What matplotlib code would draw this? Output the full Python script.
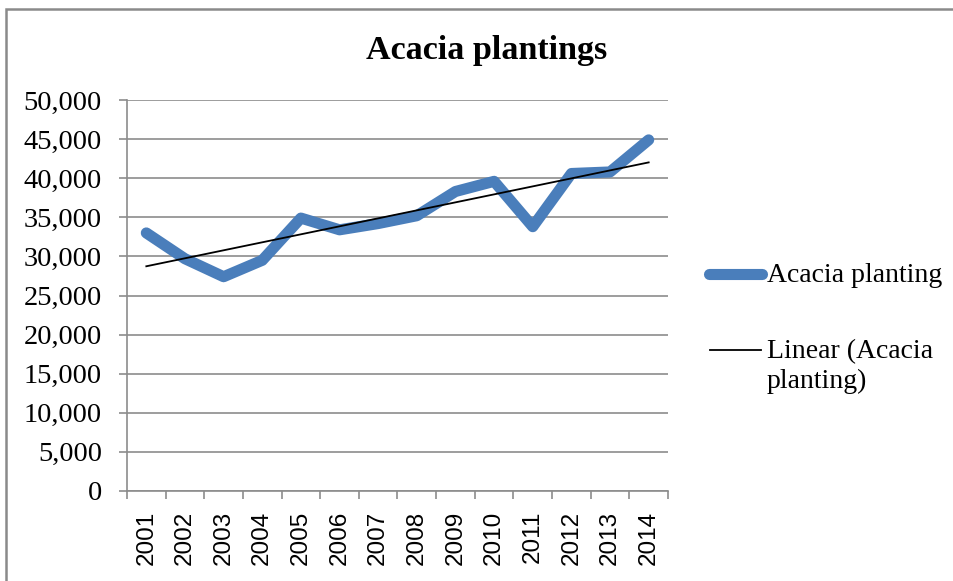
import numpy as np
import matplotlib
matplotlib.use("Agg")
import matplotlib.pyplot as plt
from matplotlib.lines import Line2D
from matplotlib.patches import Rectangle
from matplotlib.ticker import FuncFormatter

years = ["2001", "2002", "2003", "2004", "2005", "2006", "2007",
         "2008", "2009", "2010", "2011", "2012", "2013", "2014"]
plantings = [33000, 29700, 27400, 29500, 34900, 33400, 34200,
             35200, 38300, 39600, 33800, 40600, 40800, 44900]
series_label = "Acacia planting"
trend_label = "Linear (Acacia\nplanting)"
title = "Acacia plantings"

serif = "Liberation Serif"
blue = "#4A7EBB"
grey = "#8C8C8C"

fig = plt.figure(figsize=(9.54, 5.81), dpi=100)
ax = fig.add_axes([127 / 954, 90 / 581, 541 / 954, 391 / 581])

x = np.arange(len(years))
ax.plot(x, plantings, color=blue, lw=8, solid_capstyle="round",
        solid_joinstyle="round", zorder=3)

# linear trendline like excel
k, b = np.polyfit(x, plantings, 1)
ax.plot(x, k * x + b, color="black", lw=1.3, zorder=4)

ax.set_xlim(-0.5, len(years) - 0.5)
ax.set_ylim(0, 50000)
ax.set_yticks(np.arange(0, 50001, 5000))
ax.yaxis.set_major_formatter(FuncFormatter(lambda v, p: f"{int(v):,}"))
ax.grid(axis="y", color=grey, lw=1.2)
ax.set_axisbelow(True)

ax.set_xticks(x)
ax.set_xticklabels(years, rotation=90, fontsize=17.5, family="Liberation Sans")
ax.set_xticks(np.arange(-0.5, len(years), 1), minor=True)
ax.tick_params(axis="x", which="major", length=0, pad=14)
ax.tick_params(axis="x", which="minor", length=6, width=1.2, color=grey)
ax.tick_params(axis="y", length=6, width=1.2, color=grey, pad=12)
for lab in ax.get_yticklabels():
    lab.set_family(serif)
    lab.set_fontsize(20.5)

for s in ["top", "right"]:
    ax.spines[s].set_visible(False)
ax.spines["left"].set_color(grey)
ax.spines["bottom"].set_color(grey)
ax.spines["left"].set_linewidth(1.2)
ax.spines["bottom"].set_linewidth(1.2)

fig.text(487 / 954, 1 - 50 / 581, title, ha="center", va="center",
         family=serif, fontweight="bold", fontsize=24.5)

# legend drawn by hand so the trend handle sits on the first text line
fig.add_artist(Line2D([709 / 954, 762 / 954], [1 - 274 / 581] * 2, color=blue,
                      lw=8, solid_capstyle="round"))
fig.text(767 / 954, 1 - 276 / 581, series_label, ha="left", va="center",
         family=serif, fontsize=20)
fig.add_artist(Line2D([710 / 954, 761 / 954], [1 - 350 / 581] * 2,
                      color="black", lw=1.3))
fig.text(767 / 954, 1 - 339 / 581, trend_label, ha="left", va="top",
         family=serif, fontsize=20, linespacing=1.25)

fig.add_artist(Rectangle((6 / 954, -0.1), 1.2, 1 - 9 / 581 + 0.1,
                         transform=fig.transFigure, fill=False,
                         edgecolor="#8A8A8A", lw=1.8))

fig.savefig("out.png", dpi=100)
